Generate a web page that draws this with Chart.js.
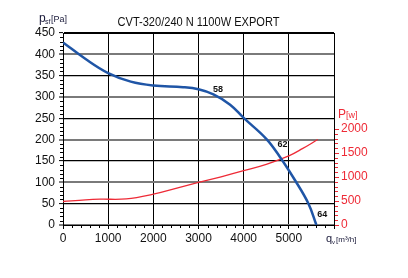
<!DOCTYPE html>
<html>
<head>
<meta charset="utf-8">
<script src="https://cdn.jsdelivr.net/npm/chart.js@4"></script>
<style>
  body { margin: 0; background: #fff; }
  #wrap { width: 408px; height: 278px; position: relative; }
</style>
</head>
<body>
<div id="wrap"><canvas id="chart"></canvas></div>
<script>
const FONT = '"Liberation Sans Narrow", "Liberation Sans", Arial, sans-serif';

// pressure curve p_sf [Pa] vs q_v [m3/h]
const flowP = [0, 500, 1000, 1500, 2000, 2660, 3000, 3330, 3700, 4000, 4500, 4800, 5130, 5430, 5610];
const pressure = [428, 389, 356, 336, 327, 323, 318, 306, 282, 251, 202, 160, 106, 51, 0];

// power curve P [W] vs q_v [m3/h]
const flowW = [0, 500, 820, 1400, 2000, 2500, 3000, 3500, 4000, 4500, 5000, 5300, 5640];
const power = [490, 525, 538, 545, 643, 765, 886, 1005, 1131, 1265, 1440, 1590, 1780];

// operating point marks on the pressure curve
const markText = ["58", "62", "64"];
const markFlow = [3430, 4860, 5740];
const markPressure = [306, 177, 14];

const xTicks = [0, 1000, 2000, 3000, 4000, 5000, 6000];
const powerTicks = [0, 500, 1000, 1500, 2000];

const RED = "#ee2a36";
const BLUE = "#1f55a6";

const overlay = {
  id: "overlay",
  afterDraw(chart) {
    const { ctx, chartArea: a, scales } = chart;
    const { x, y, y1 } = scales;
    ctx.save();

    // frame
    ctx.strokeStyle = "#000";
    ctx.lineWidth = 1;
    ctx.beginPath();
    ctx.moveTo(a.left, a.top + 0.5);
    ctx.lineTo(a.right + 0.5, a.top + 0.5);
    ctx.lineTo(a.right + 0.5, a.bottom);
    ctx.stroke();

    // minor ticks
    ctx.beginPath();
    for (let v = 200; v < 6000; v += 200) {
      if (v % 1000 === 0) continue;
      const px = Math.round(x.getPixelForValue(v)) + 0.5;
      ctx.moveTo(px, a.bottom);
      ctx.lineTo(px, a.bottom + 3);
    }
    for (let v = 10; v < 450; v += 10) {
      if (v % 50 === 0) continue;
      const py = Math.round(y.getPixelForValue(v)) + 0.5;
      ctx.moveTo(a.left - 3, py);
      ctx.lineTo(a.left, py);
    }
    ctx.stroke();

    ctx.strokeStyle = RED;
    ctx.beginPath();
    for (let v = 0; v <= 2000; v += 100) {
      const py = Math.round(y1.getPixelForValue(v)) + 0.5;
      ctx.moveTo(a.right + 1, py);
      ctx.lineTo(a.right + 4, py);
    }
    ctx.stroke();

    // operating point labels
    ctx.fillStyle = "#111";
    ctx.font = "bold 9px " + FONT;
    ctx.textAlign = "center";
    ctx.textBaseline = "bottom";
    markText.forEach((t, i) => {
      ctx.fillText(t, x.getPixelForValue(markFlow[i]), y.getPixelForValue(markPressure[i]), 10);
    });

    // title
    ctx.textBaseline = "alphabetic";
    ctx.fillStyle = "#111";
    ctx.font = "12.5px " + FONT;
    ctx.fillText("CVT-320/240 N 1100W EXPORT", (a.left + a.right) / 2, 26, 162);

    // left axis title p_sf[Pa]
    ctx.textAlign = "left";
    ctx.fillStyle = "#1a1a3a";
    ctx.font = "12px " + FONT;
    ctx.fillText("p", 39, 22);
    ctx.font = "7px " + FONT;
    ctx.fillText("sf", 45, 24);
    ctx.font = "9px " + FONT;
    ctx.fillText("[Pa]", 51, 22, 16);

    // bottom axis title q_v [m3/h]
    ctx.font = "11px " + FONT;
    ctx.fillText("q", 326, 242);
    ctx.font = "6px " + FONT;
    ctx.fillText("v", 332, 244);
    ctx.font = "8px " + FONT;
    ctx.fillText("[m\u00b3/h]", 336, 242, 21);

    // right axis title P[w]
    ctx.fillStyle = RED;
    ctx.font = "12px " + FONT;
    ctx.fillText("P", 338, 118);
    ctx.font = "9px " + FONT;
    ctx.fillText("[w]", 346, 118, 12);

    ctx.restore();
  }
};

new Chart(document.getElementById("chart"), {
  type: "line",
  data: {
    datasets: [
      {
        label: "p_sf",
        data: flowP.map((q, i) => ({ x: q, y: pressure[i] })),
        borderColor: BLUE,
        borderWidth: 2.5,
        pointRadius: 0,
        tension: 0.4,
        yAxisID: "y"
      },
      {
        label: "P",
        data: flowW.map((q, i) => ({ x: q, y: power[i] })),
        borderColor: RED,
        borderWidth: 1.3,
        pointRadius: 0,
        tension: 0.4,
        yAxisID: "y1"
      }
    ]
  },
  options: {
    responsive: true,
    maintainAspectRatio: false,
    animation: false,
    layout: { padding: { top: 33, left: 0, right: 0, bottom: 0 } },
    plugins: { legend: { display: false }, tooltip: { enabled: false } },
    scales: {
      x: {
        type: "linear",
        min: 0,
        max: 6000,
        afterFit: s => { s.height = 53; },
        afterBuildTicks: s => { s.ticks = xTicks.map(v => ({ value: v })); },
        ticks: {
          color: "#111",
          font: { family: FONT, size: 12 },
          padding: 2,
          maxRotation: 0,
          callback: v => (v === 6000 ? "" : String(v))
        },
        grid: { color: "#000", lineWidth: 1, tickLength: 4, tickColor: "#000" },
        border: { color: "#000", width: 1 }
      },
      y: {
        position: "left",
        min: 0,
        max: 450,
        afterFit: s => { s.width = 63; },
        ticks: {
          stepSize: 50,
          color: "#111",
          font: { family: FONT, size: 12 },
          padding: 4,
          callback: v => String(v)
        },
        grid: {
          color: c => (c.tick.value % 100 === 0 ? "#7a7a7a" : "#000"),
          lineWidth: c => (c.tick.value % 100 === 0 ? 2 : 1.2),
          tickLength: 4,
          tickColor: "#000",
          tickWidth: 1
        },
        border: { color: "#000", width: 1 }
      },
      y1: {
        position: "right",
        min: 0,
        max: 4000,
        afterFit: s => { s.width = 74; },
        afterBuildTicks: s => { s.ticks = powerTicks.map(v => ({ value: v })); },
        ticks: {
          color: RED,
          font: { family: FONT, size: 12 },
          padding: 2,
          callback: v => String(v)
        },
        grid: { drawOnChartArea: false, tickLength: 5, tickColor: RED, tickWidth: 1 },
        border: { display: false }
      }
    }
  },
  plugins: [overlay]
});
</script>
</body>
</html>
